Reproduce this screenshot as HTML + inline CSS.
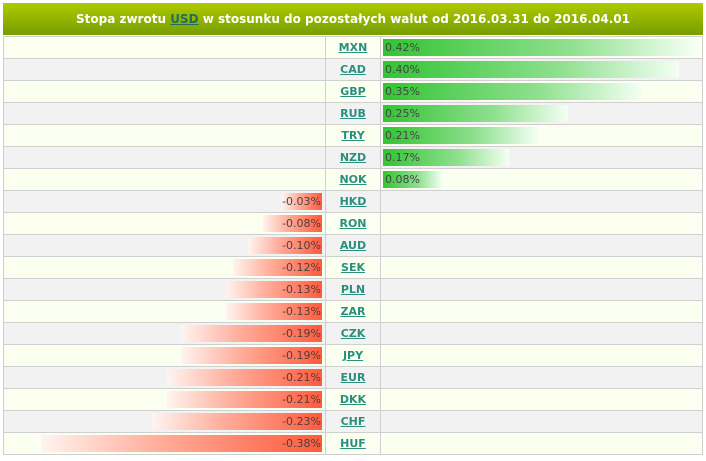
<!DOCTYPE html>
<html><head><meta charset="utf-8"><style>
body{margin:0;background:#fff;width:706px;height:461px;overflow:hidden;font-family:"DejaVu Sans","Liberation Sans",sans-serif;}
#wrap{position:absolute;left:3px;top:3px;width:700px;}
#hdr{height:32px;background:linear-gradient(#afca00,#779d00);color:#fff;font-weight:bold;font-size:12px;text-align:center;line-height:32px;}
#hdr a{color:#1f6f5f;text-decoration:underline;}
table{border-collapse:collapse;width:700px;table-layout:fixed;margin-top:1px;}
td{border:1px solid #cfcfcf;height:21px;padding:0;font-size:11px;color:#444;position:relative;}
tr:nth-child(odd) td{background:#fbfff0;}
tr:nth-child(even) td{background:#f2f2f2;}
td.c{text-align:center;font-weight:bold;}
td.c a{color:#2a8f7c;text-decoration:underline;font-size:11px;}
.gb{position:absolute;left:2px;top:2px;height:17px;background:linear-gradient(90deg,#33c433,#8fe08f 60%,#f4fff4);line-height:17px;padding-left:2px;box-sizing:border-box;}
.rb{position:absolute;right:3px;top:2px;height:17px;background:linear-gradient(90deg,#fff4f0,#ffb09e 40%,#ff5a3c);line-height:17px;text-align:right;padding-right:1px;box-sizing:border-box;}
</style></head><body>
<div id="wrap">
<div id="hdr">Stopa zwrotu <a>USD</a> w stosunku do pozostałych walut od 2016.03.31 do 2016.04.01</div>
<table id="t"><colgroup><col style="width:322px"><col style="width:55px"><col></colgroup><tbody id="tb"></tbody></table>
</div>
<script>
const currencies=["MXN","CAD","GBP","RUB","TRY","NZD","NOK","HKD","RON","AUD","SEK","PLN","ZAR","CZK","JPY","EUR","DKK","CHF","HUF"];
const returns=[0.42,0.40,0.35,0.25,0.21,0.17,0.08,-0.03,-0.08,-0.10,-0.12,-0.13,-0.13,-0.19,-0.19,-0.21,-0.21,-0.23,-0.38];
const labels=["0.42%","0.40%","0.35%","0.25%","0.21%","0.17%","0.08%","-0.03%","-0.08%","-0.10%","-0.12%","-0.13%","-0.13%","-0.19%","-0.19%","-0.21%","-0.21%","-0.23%","-0.38%"];
const scale=740;
const tb=document.getElementById('tb');
currencies.forEach((c,i)=>{
 const v=returns[i];
 const tr=document.createElement('tr');
 
 
 const l=document.createElement('td'),m=document.createElement('td'),r=document.createElement('td');
 
 
 
 
 
 
 m.className='c';
 const a=document.createElement('a');
 
 
 a.textContent=c;m.appendChild(a);
 const b=document.createElement('div');
 
 
 b.textContent=labels[i];
 b.style.width=Math.max(Math.abs(v)*scale,40)+'px';
 if(v>=0){b.className='gb';r.appendChild(b);}else{b.className='rb';l.appendChild(b);}
 tr.append(l,m,r);tb.appendChild(tr);
});
</script>
</body></html>
